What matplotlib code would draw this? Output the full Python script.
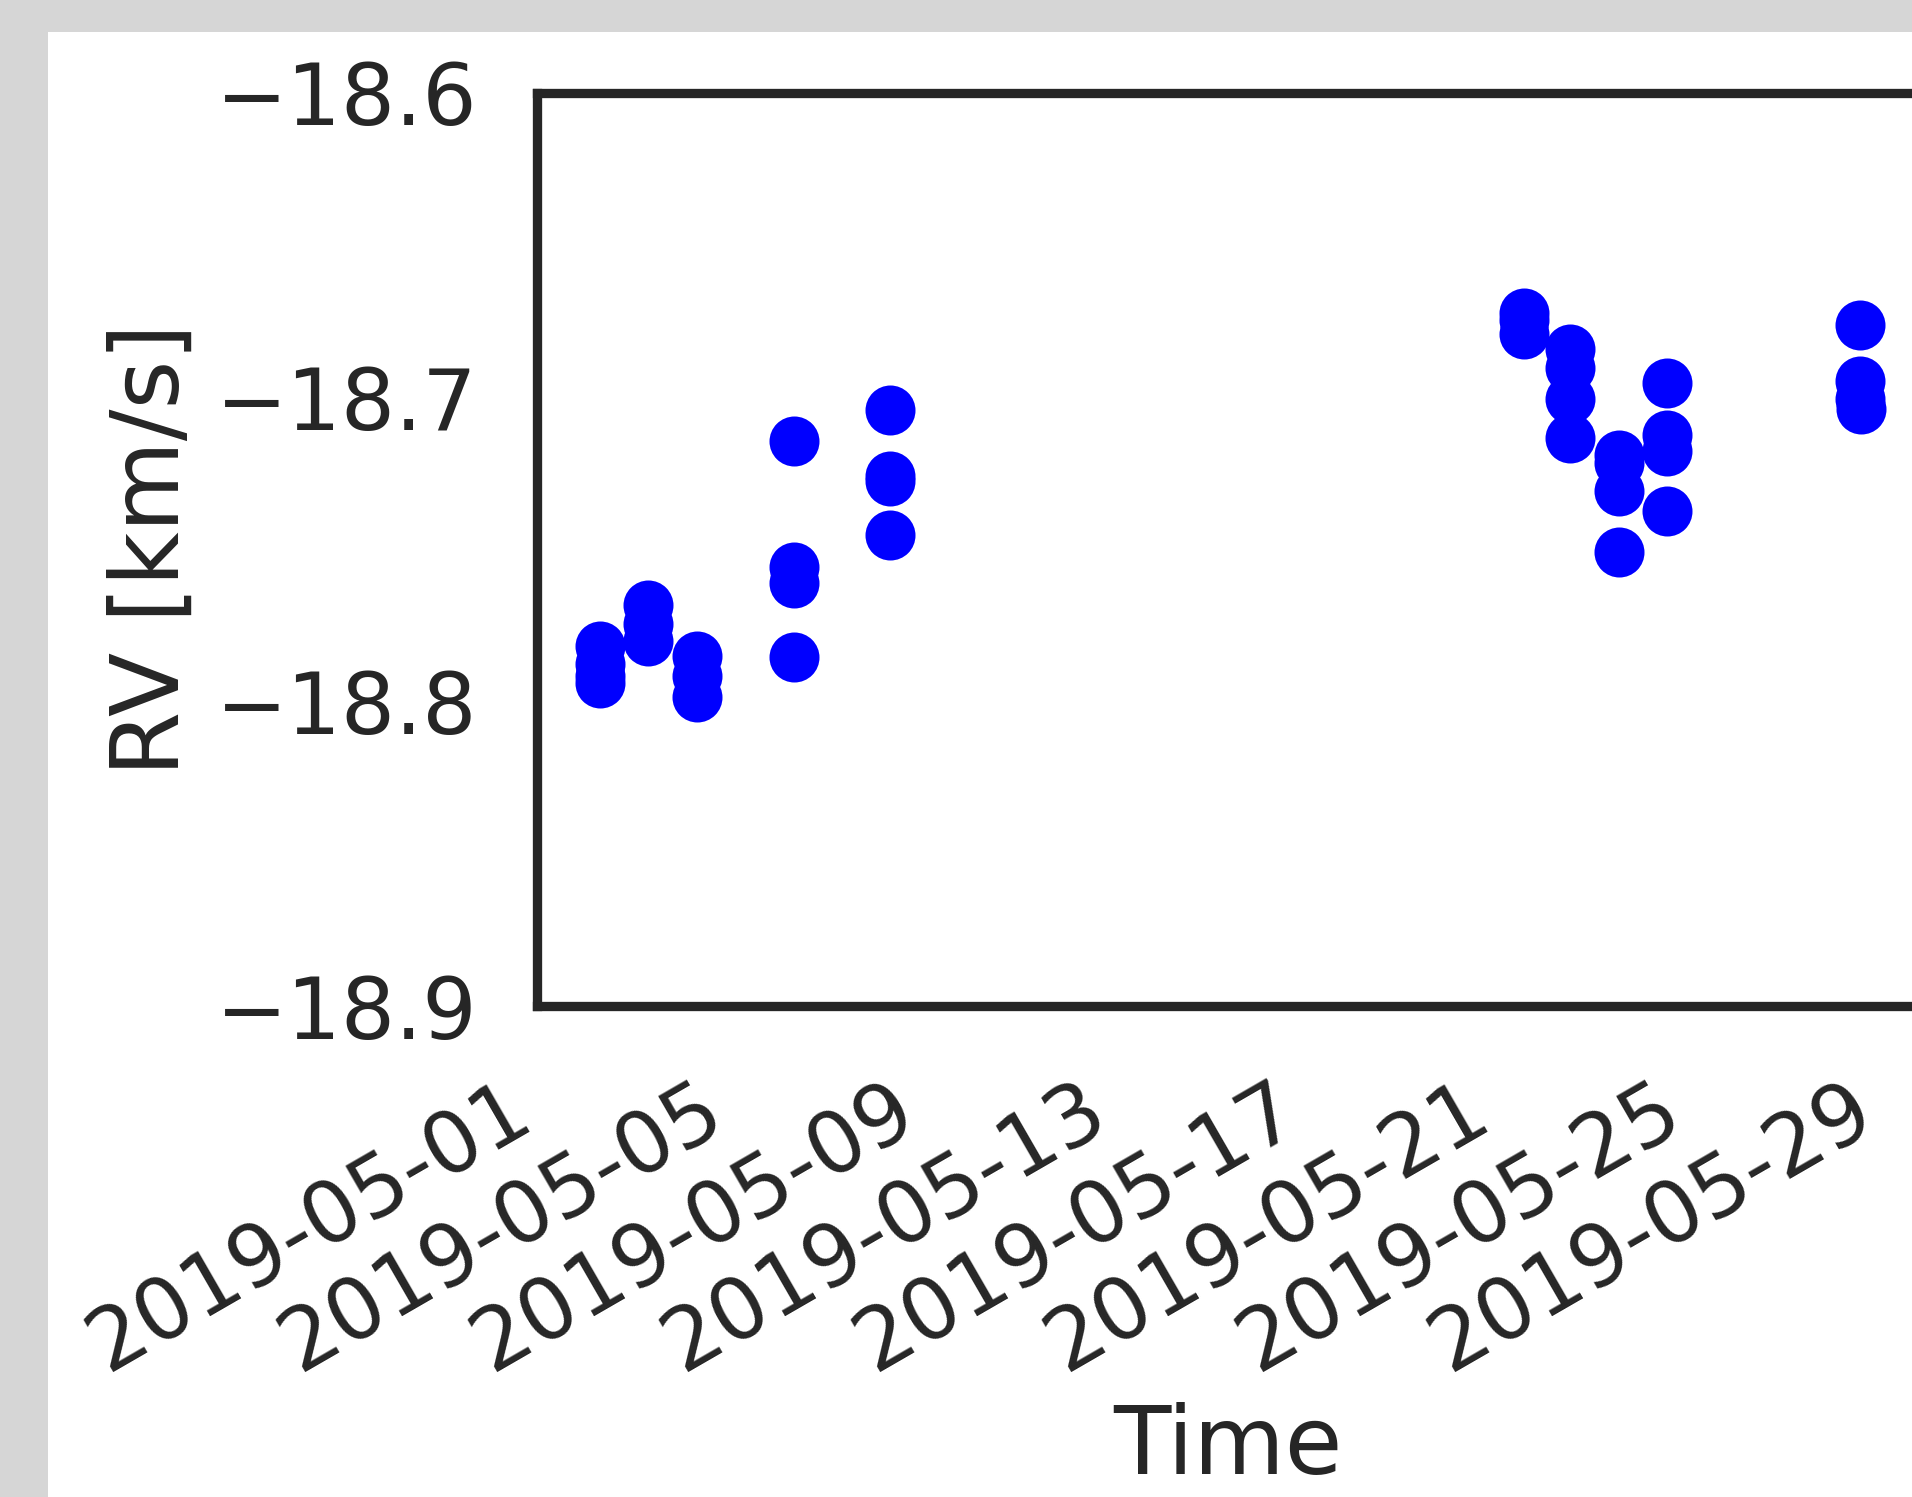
import pandas as pd
import matplotlib
matplotlib.use("Agg")
import matplotlib.pyplot as plt
import matplotlib.dates as mdates
from matplotlib.patches import Rectangle

obs_time = [
    "2019-05-02 07:20", "2019-05-02 07:25", "2019-05-02 07:25", "2019-05-02 07:30",
    "2019-05-03 07:35", "2019-05-03 07:40", "2019-05-03 07:40",
    "2019-05-04 07:55", "2019-05-04 07:50", "2019-05-04 07:50",
    "2019-05-06 08:40", "2019-05-06 08:40", "2019-05-06 08:45", "2019-05-06 08:40",
    "2019-05-08 08:35", "2019-05-08 08:35", "2019-05-08 08:40", "2019-05-08 08:40",
    "2019-05-21 14:25", "2019-05-21 14:25", "2019-05-21 14:25",
    "2019-05-22 13:40", "2019-05-22 13:35", "2019-05-22 13:35", "2019-05-22 13:40",
    "2019-05-23 13:55", "2019-05-23 13:55", "2019-05-23 13:55", "2019-05-23 13:55",
    "2019-05-24 14:10", "2019-05-24 14:10", "2019-05-24 14:10", "2019-05-24 14:15",
    "2019-05-28 15:00", "2019-05-28 15:00", "2019-05-28 15:00", "2019-05-28 15:05",
]
rv = [
    -18.7816, -18.7875, -18.7915, -18.7938,
    -18.7683, -18.7743, -18.7800,
    -18.7849, -18.7915, -18.7984,
    -18.7144, -18.7559, -18.7609, -18.7852,
    -18.7043, -18.7259, -18.7275, -18.7453,
    -18.6725, -18.6745, -18.6794,
    -18.6843, -18.6903, -18.7007, -18.7135,
    -18.7190, -18.7215, -18.7308, -18.7508,
    -18.6953, -18.7124, -18.7177, -18.7373,
    -18.6764, -18.6947, -18.7007, -18.7040,
]
y_ticks = [-18.9, -18.8, -18.7, -18.6]

ink = "#262626"
plt.rcParams["font.family"] = ["DejaVu Sans"]
plt.rcParams["text.color"] = ink
plt.rcParams["axes.labelcolor"] = ink
plt.rcParams["xtick.color"] = ink
plt.rcParams["ytick.color"] = ink

W, H = 1912, 1497
fig = plt.figure(figsize=(W / 100, H / 100), dpi=100)
fig.patch.set_facecolor("#d6d6d6")
fig.patches.append(Rectangle((48 / W, 0), 1, 1 - 32 / H, transform=fig.transFigure,
                             facecolor="white", edgecolor="none", zorder=-10))

ax = fig.add_axes([536.7 / W, 1 - 1006.3 / H, 1387 / W, (1006.3 - 92.7) / H])
ax.set_facecolor("white")

times = pd.to_datetime(obs_time)
ax.plot(times, rv, "o", color="blue", markersize=36, markeredgewidth=0)

ax.set_ylim(-18.9, -18.6)
ax.set_yticks(y_ticks)
ax.xaxis.set_major_locator(mdates.DayLocator(bymonthday=[1, 5, 9, 13, 17, 21, 25, 29]))
ax.xaxis.set_major_formatter(mdates.DateFormatter("%Y-%m-%d"))

for s in ax.spines.values():
    s.set_color(ink)
    s.set_linewidth(6.7)

ax.tick_params(axis="both", length=0, labelsize=61.5)
ax.tick_params(axis="x", pad=84.7)
ax.tick_params(axis="y", pad=42.7)
for lab in ax.get_xticklabels():
    lab.set_rotation(30)
    lab.set_rotation_mode("anchor")
    lab.set_ha("right")
    lab.set_va("baseline")

ax.set_xlabel("Time", fontsize=67.5, va="baseline")
ax.xaxis.set_label_coords(0.4984, -0.5119)
ax.set_ylabel("RV [km/s]", fontsize=67.5)
ax.yaxis.label.set_rotation_mode("anchor")
ax.yaxis.label.set_va("baseline")
ax.yaxis.set_label_coords(-0.2577, 0.5)

fig.savefig("out.png", dpi=100, facecolor=fig.get_facecolor())
